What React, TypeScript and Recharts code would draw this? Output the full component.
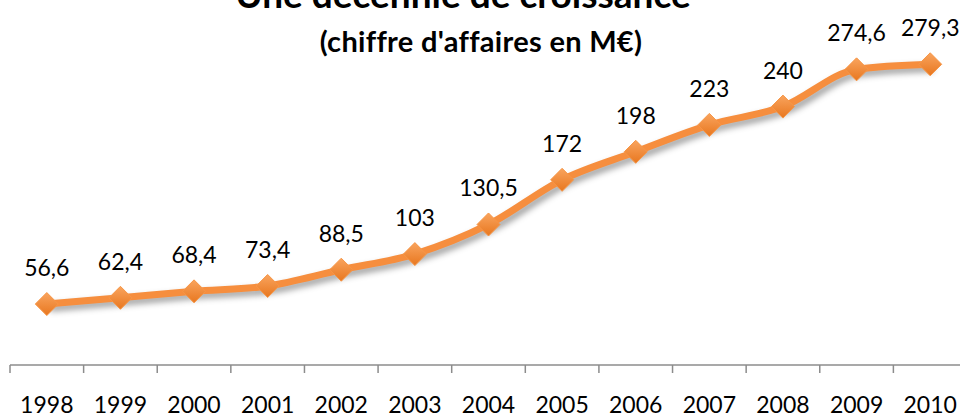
import { LineChart, Line, XAxis, YAxis, LabelList } from "recharts";

const years = ["1998", "1999", "2000", "2001", "2002", "2003", "2004", "2005", "2006", "2007", "2008", "2009", "2010"];
const revenue = [56.6, 62.4, 68.4, 73.4, 88.5, 103, 130.5, 172, 198, 223, 240, 274.6, 279.3];

const data = years.map((year, i) => ({ year, value: revenue[i] }));

const WIDTH = 970;
const HEIGHT = 417;
const MARGIN = { top: 42, right: 3, left: 10, bottom: 0 };
const BAND = (WIDTH - MARGIN.left - MARGIN.right) / years.length;
const FONT = "Lato, 'Open Sans', sans-serif";

// tick marks sit between categories, label under the category centre
const YearTick = (props: any) => {
  const { x, y, payload, index } = props;
  const left = x - BAND / 2;
  return (
    <g>
      <line x1={left} y1={y} x2={left} y2={y + 8} stroke="#8c8c8c" strokeWidth={1.5} />
      {index === years.length - 1 && (
        <line x1={left + BAND} y1={y} x2={left + BAND} y2={y + 8} stroke="#8c8c8c" strokeWidth={1.5} />
      )}
      <text x={x} y={y + 48} textAnchor="middle" fontSize={23} fill="#000" fontFamily={FONT}>
        {payload.value}
      </text>
    </g>
  );
};

const Diamond = (props: any) => {
  const { cx, cy } = props;
  if (cx == null || cy == null) return null;
  const r = 11.5;
  return (
    <polygon
      points={`${cx},${cy - r} ${cx + r},${cy} ${cx},${cy + r} ${cx - r},${cy}`}
      fill="url(#diamondFill)"
      stroke="#f79646"
      strokeWidth={1}
    />
  );
};

export default function App() {
  return (
    <div style={{ position: "relative", width: 960, height: HEIGHT, overflow: "hidden" }}>
      <style>{`
        body { margin: 0; overflow: hidden; }
        .recharts-line { filter: drop-shadow(3px 4px 3px rgba(0,0,0,0.38)); }
      `}</style>
      <LineChart width={WIDTH} height={HEIGHT} data={data} margin={MARGIN}>
        <defs>
          <linearGradient id="diamondFill" x1="0" y1="0" x2="0" y2="1">
            <stop offset="0%" stopColor="#f9a45e" />
            <stop offset="100%" stopColor="#e8771f" />
          </linearGradient>
        </defs>
        <XAxis
          dataKey="year"
          height={52}
          axisLine={{ stroke: "#8c8c8c", strokeWidth: 1.5 }}
          tickLine={false}
          tickSize={0}
          tickMargin={0}
          interval={0}
          padding={{ left: BAND / 2, right: BAND / 2 }}
          tick={<YearTick />}
        />
        <YAxis hide domain={[0, 300]} />
        <Line
          type="monotone"
          dataKey="value"
          stroke="#f68e3e"
          strokeWidth={7}
          dot={<Diamond />}
          activeDot={false}
          isAnimationActive={false}
        >
          <LabelList
            dataKey="value"
            position="top"
            offset={28}
            formatter={(v: any) => String(v).replace(".", ",")}
            style={{ fontSize: 23, fill: "#000", fontFamily: FONT }}
          />
        </Line>
      </LineChart>
      <div
        style={{
          position: "absolute",
          left: 0,
          width: 926,
          top: -26,
          zIndex: 2,
          textAlign: "center",
          fontFamily: FONT,
          fontWeight: 700,
          fontSize: 37,
          lineHeight: "40px",
          color: "#000",
        }}
      >
        Une décennie de croissance
      </div>
      <div
        style={{
          position: "absolute",
          left: 0,
          width: 962,
          top: 24,
          zIndex: 2,
          textAlign: "center",
          fontFamily: FONT,
          fontWeight: 700,
          fontSize: 29,
          letterSpacing: 0.3,
          lineHeight: "34px",
          color: "#000",
        }}
      >
        (chiffre d'affaires en M€)
      </div>
    </div>
  );
}
